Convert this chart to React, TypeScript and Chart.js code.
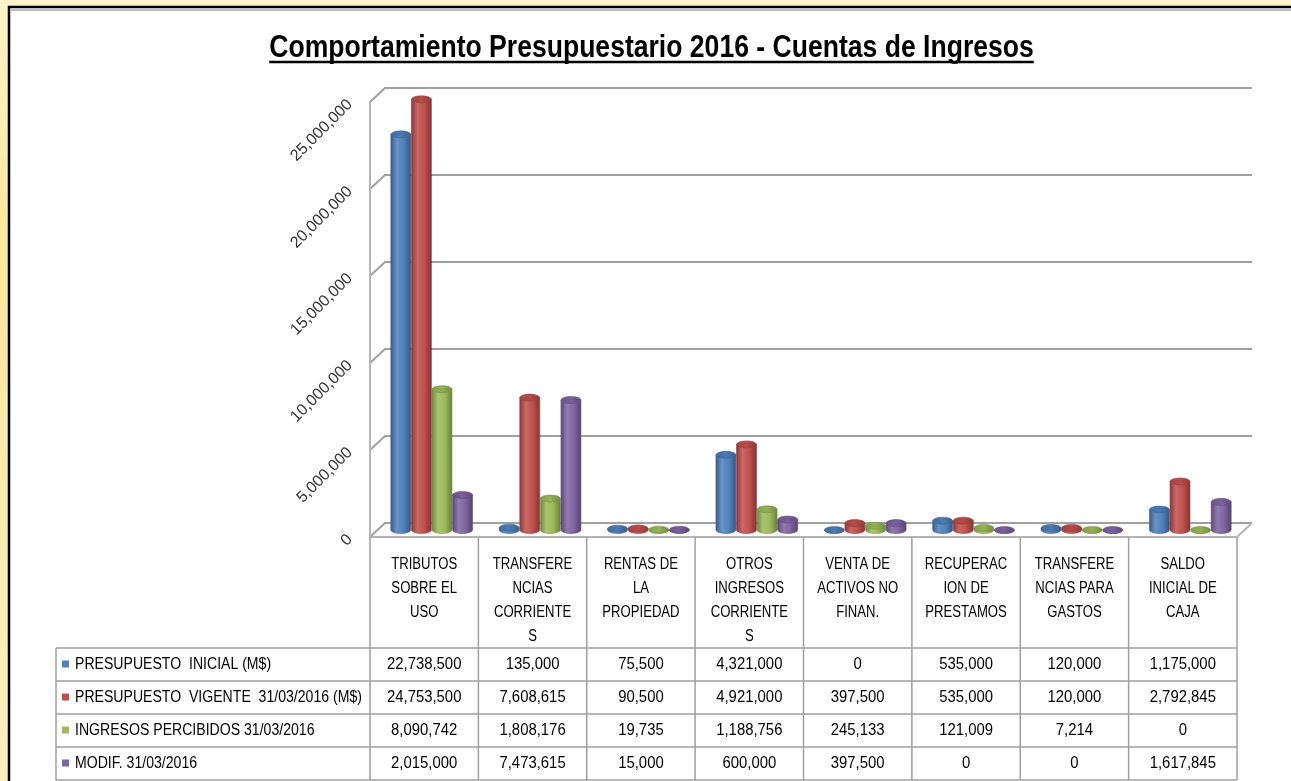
import React, { useEffect, useRef } from "react";
import { Chart, registerables } from "chart.js";

Chart.register(...registerables);

const TITLE = "Comportamiento Presupuestario 2016 - Cuentas de Ingresos";

const categories: string[][] = [
  ["TRIBUTOS", "SOBRE EL", "USO"],
  ["TRANSFERE", "NCIAS", "CORRIENTE", "S"],
  ["RENTAS DE", "LA", "PROPIEDAD"],
  ["OTROS", "INGRESOS", "CORRIENTE", "S"],
  ["VENTA DE", "ACTIVOS NO", "FINAN."],
  ["RECUPERAC", "ION DE", "PRESTAMOS"],
  ["TRANSFERE", "NCIAS PARA", "GASTOS"],
  ["SALDO", "INICIAL DE", "CAJA"],
];

const seriesNames = [
  "PRESUPUESTO  INICIAL (M$)",
  "PRESUPUESTO  VIGENTE  31/03/2016 (M$)",
  "INGRESOS PERCIBIDOS 31/03/2016",
  "MODIF. 31/03/2016",
];

const presupuestoInicial = [22738500, 135000, 75500, 4321000, 0, 535000, 120000, 1175000];
const presupuestoVigente = [24753500, 7608615, 90500, 4921000, 397500, 535000, 120000, 2792845];
const ingresosPercibidos = [8090742, 1808176, 19735, 1188756, 245133, 121009, 7214, 0];
const modificaciones = [2015000, 7473615, 15000, 600000, 397500, 0, 0, 1617845];

const seriesColors = ["#4f81bd", "#c0504d", "#9bbb59", "#8064a2"];

const Y_MAX = 25000000;
const Y_STEP = 5000000;

const SANS = "'Liberation Sans', Arial, sans-serif";

const DEPTH_X = 15;
const DEPTH_Y = 14;
const TABLE_LEFT = 56;

function shade(hex: string, p: number): string {
  const n = parseInt(hex.slice(1), 16);
  let r = n >> 16;
  let g = (n >> 8) & 255;
  let b = n & 255;
  const t = p < 0 ? 0 : 255;
  const a = Math.abs(p);
  r = Math.round(r + (t - r) * a);
  g = Math.round(g + (t - g) * a);
  b = Math.round(b + (t - b) * a);
  return `rgb(${r},${g},${b})`;
}

const fmt = (v: number) => v.toLocaleString("en-US");

function narrowText(ctx: CanvasRenderingContext2D, text: string, x: number, y: number, align: CanvasTextAlign, sx: number) {
  ctx.save();
  ctx.translate(x, y);
  ctx.scale(sx, 1);
  ctx.textAlign = align;
  ctx.fillText(text, 0, 0);
  ctx.restore();
}

function drawCylinder(ctx: CanvasRenderingContext2D, cx: number, top: number, base: number, r: number, color: string) {
  const ry = Math.min(4, r * 0.35);
  const grad = ctx.createLinearGradient(cx - r, 0, cx + r, 0);
  grad.addColorStop(0, shade(color, -0.28));
  grad.addColorStop(0.3, shade(color, 0.14));
  grad.addColorStop(0.65, color);
  grad.addColorStop(1, shade(color, -0.32));
  ctx.fillStyle = grad;
  ctx.beginPath();
  ctx.moveTo(cx - r, top);
  ctx.lineTo(cx - r, base);
  ctx.ellipse(cx, base, r, ry, 0, Math.PI, 0, true);
  ctx.lineTo(cx + r, top);
  ctx.closePath();
  ctx.fill();
  ctx.strokeStyle = shade(color, -0.22);
  ctx.lineWidth = 0.6;
  ctx.stroke();
  const tg = ctx.createLinearGradient(cx - r, 0, cx + r, 0);
  tg.addColorStop(0, shade(color, -0.15));
  tg.addColorStop(0.5, shade(color, -0.05));
  tg.addColorStop(1, shade(color, -0.25));
  ctx.fillStyle = tg;
  ctx.beginPath();
  ctx.ellipse(cx, top, r, ry, 0, 0, Math.PI * 2);
  ctx.fill();
  ctx.stroke();
}

const framePlugin = {
  id: "frame3d",
  beforeDraw(chart: any) {
    const { ctx, width, height } = chart;
    ctx.save();
    const bg = ctx.createLinearGradient(0, 0, 0, height);
    bg.addColorStop(0, "#fdf3c9");
    bg.addColorStop(0.3, "#f9e7a0");
    bg.addColorStop(1, "#fbefc0");
    ctx.fillStyle = bg;
    ctx.fillRect(0, 0, width, height);
    ctx.fillStyle = "#ffffff";
    ctx.fillRect(10, 8, width - 10, height - 8);
    ctx.strokeStyle = "#000000";
    ctx.lineWidth = 2.5;
    ctx.beginPath();
    ctx.moveTo(9, height);
    ctx.lineTo(9, 7);
    ctx.lineTo(width, 7);
    ctx.stroke();
    ctx.strokeStyle = "#a8a8a8";
    ctx.lineWidth = 1.5;
    ctx.beginPath();
    ctx.moveTo(11, 10);
    ctx.lineTo(width, 10);
    ctx.stroke();

    const y = chart.scales.y;
    const area = chart.chartArea;
    const L = area.left;
    const R = area.right;
    const hx = DEPTH_X;
    const hy = DEPTH_Y / 2;
    ctx.lineWidth = 2;
    ctx.strokeStyle = "#a0a0a0";
    y.ticks.forEach((t: any) => {
      const py = y.getPixelForValue(t.value);
      ctx.beginPath();
      ctx.moveTo(L, py + hy);
      ctx.lineTo(L + hx, py - hy);
      ctx.lineTo(R + hx, py - hy);
      ctx.stroke();
    });
    const p0 = y.getPixelForValue(0);
    const pMax = y.getPixelForValue(Y_MAX);
    ctx.strokeStyle = "#b4b4b4";
    ctx.beginPath();
    ctx.moveTo(L, pMax + hy);
    ctx.lineTo(L, p0 + hy);
    ctx.lineTo(R, p0 + hy);
    ctx.lineTo(R + hx, p0 - hy);
    ctx.stroke();

    // title
    ctx.fillStyle = "#000";
    ctx.font = `bold 32px ${SANS}`;
    ctx.textBaseline = "alphabetic";
    const titleX = width / 2 + 6;
    const titleY = 57;
    narrowText(ctx, TITLE, titleX, titleY, "center", 0.83);
    const w = ctx.measureText(TITLE).width * 0.83;
    ctx.lineWidth = 2.5;
    ctx.strokeStyle = "#000";
    ctx.beginPath();
    ctx.moveTo(titleX - w / 2, titleY + 5);
    ctx.lineTo(titleX + w / 2, titleY + 5);
    ctx.stroke();
    ctx.restore();
  },
};

const cylinderPlugin = {
  id: "cylinders",
  afterDatasetsDraw(chart: any) {
    const { ctx } = chart;
    ctx.save();
    chart.data.datasets.forEach((ds: any, i: number) => {
      const meta = chart.getDatasetMeta(i);
      meta.data.forEach((el: any) => {
        const p = el.getProps(["x", "y", "base", "width"], true);
        drawCylinder(ctx, p.x + DEPTH_X / 2, p.y, p.base, p.width / 2, seriesColors[i]);
      });
    });
    ctx.restore();
  },
};

const tablePlugin = {
  id: "dataTable",
  afterDraw(chart: any) {
    const { ctx, height } = chart;
    const x = chart.scales.x;
    const n = categories.length;
    const cw = (x.right - x.left) / n;
    const headTop = chart.chartArea.bottom + DEPTH_Y / 2;
    const rowsTop = x.bottom;
    const bottom = height - 1;
    const rowH = (bottom - rowsTop) / chart.data.datasets.length;
    ctx.save();
    ctx.strokeStyle = "#a0a0a0";
    ctx.lineWidth = 1.5;
    ctx.beginPath();
    for (let k = 0; k <= chart.data.datasets.length; k++) {
      const yy = rowsTop + k * rowH;
      ctx.moveTo(TABLE_LEFT, yy);
      ctx.lineTo(x.right, yy);
    }
    ctx.moveTo(TABLE_LEFT, rowsTop);
    ctx.lineTo(TABLE_LEFT, bottom);
    for (let i = 0; i <= n; i++) {
      const xx = x.left + i * cw;
      ctx.moveTo(xx, headTop);
      ctx.lineTo(xx, bottom);
    }
    ctx.stroke();

    ctx.font = `16px ${SANS}`;
    ctx.textBaseline = "middle";
    ctx.fillStyle = "#000";
    categories.forEach((lines, i) => {
      const cx = x.getPixelForValue(i);
      lines.forEach((ln, j) => {
        narrowText(ctx, ln, cx, headTop + 28 + j * 24, "center", 0.82);
      });
    });

    chart.data.datasets.forEach((ds: any, k: number) => {
      const cy = rowsTop + (k + 0.5) * rowH;
      ctx.fillStyle = seriesColors[k];
      ctx.fillRect(TABLE_LEFT + 6, cy - 4, 7, 7);
      ctx.fillStyle = "#000";
      narrowText(ctx, ds.label, TABLE_LEFT + 19, cy, "left", 0.88);
      ds.data.forEach((v: number, i: number) => {
        narrowText(ctx, fmt(v), x.getPixelForValue(i), cy, "center", 0.93);
      });
    });
    ctx.restore();
  },
};

export default function App() {
  const ref = useRef<HTMLCanvasElement | null>(null);

  useEffect(() => {
    if (!ref.current) return;
    const seriesData = [presupuestoInicial, presupuestoVigente, ingresosPercibidos, modificaciones];
    const chart = new Chart(ref.current, {
      type: "bar",
      data: {
        labels: categories,
        datasets: seriesData.map((d, i) => ({
          label: seriesNames[i],
          data: d,
          backgroundColor: "rgba(0,0,0,0)",
          borderWidth: 0,
          categoryPercentage: 0.76,
          barPercentage: 0.97,
        })),
      },
      options: {
        responsive: false,
        animation: false,
        devicePixelRatio: 1,
        layout: { padding: { left: 65, right: 54, top: 95, bottom: 133 } },
        plugins: {
          legend: { display: false },
          tooltip: { enabled: false },
          title: { display: false },
        },
        scales: {
          x: {
            grid: { display: false, drawTicks: false },
            border: { display: false },
            ticks: { display: false },
            afterFit: (s: any) => {
              s.height = 118;
            },
          },
          y: {
            min: 0,
            max: Y_MAX,
            grid: { display: false, drawTicks: false },
            border: { display: false },
            ticks: {
              stepSize: Y_STEP,
              minRotation: 45,
              maxRotation: 45,
              padding: 20,
              labelOffset: DEPTH_Y / 2,
              color: "#333333",
              font: { family: SANS, size: 16 },
              callback: (v: any) => fmt(Number(v)),
            },
            afterFit: (s: any) => {
              s.width = 305;
            },
          },
        },
      },
      plugins: [framePlugin, cylinderPlugin, tablePlugin],
    } as any);
    return () => chart.destroy();
  }, []);

  return (
    <div style={{ position: "fixed", left: 0, top: 0, width: 1291, height: 781, overflow: "hidden" }}>
      <canvas ref={ref} width={1291} height={781} style={{ display: "block" }} />
    </div>
  );
}
